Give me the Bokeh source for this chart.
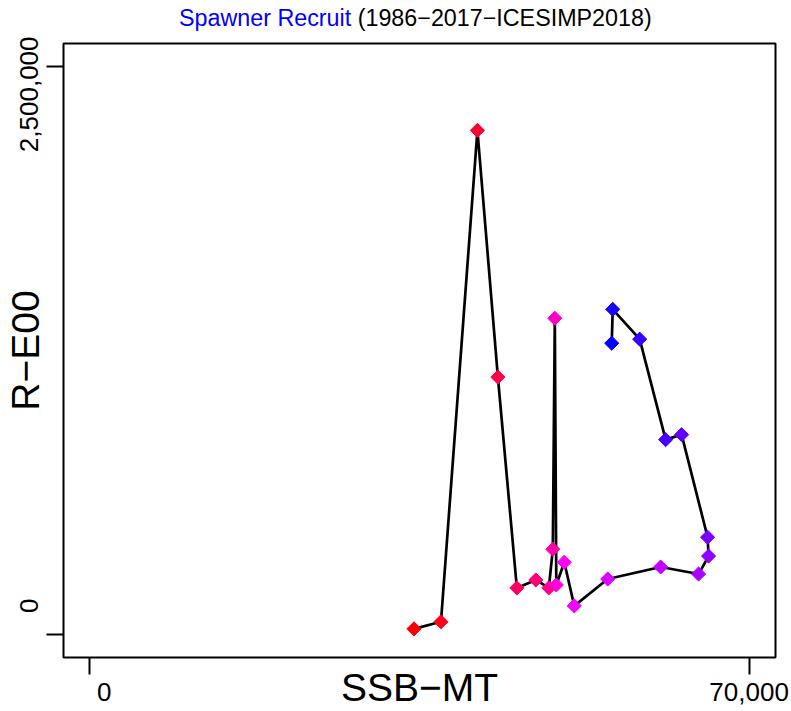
import math
from bokeh.plotting import figure
from bokeh.models import Range1d, FixedTicker, ColumnDataSource, Div
from bokeh.layouts import column
from bokeh.embed import file_html
from bokeh.resources import INLINE

# ---- data ----
ssb = [34417, 37279, 41150, 43323, 45338, 47352, 48731, 49155, 49367, 49526, 50374,
       51434, 54986, 60606, 64635, 65695, 65589, 62833, 61136, 58379, 55517, 55410]
recruits = [26000, 57000, 2218000, 1133000, 206000, 241000, 206000, 376000, 1392000, 219000, 319000,
            127000, 245000, 298000, 267000, 346000, 429000, 880000, 858000, 1300000, 1431000, 1282000]
x_ticks = [0, 70000]
y_ticks = [0, 2500000]
x_tick_labels = ["0", "70,000"]
y_tick_labels = ["0", "2,500,000"]
title_main = "Spawner Recruit"
title_rest = "(1986\u22122017\u2212ICESIMP2018)"
x_label = "SSB\u2212MT"
y_label = "R\u2212E00"

# colour ramp red -> magenta -> blue across points
n = len(ssb)
cols = []
for i in range(n):
    t = i / (n - 1)
    if t <= 0.5:
        r, b = 255, int(round(255 * 2 * t))
    else:
        r, b = int(round(255 * (2 - 2 * t))), 255
    cols.append("#%02x%02x%02x" % (r, 0, b))

src = ColumnDataSource(dict(x=ssb, y=recruits, c=cols))

FONT = "Liberation Sans"
TOTAL_W, TOTAL_H = 790, 711
TITLE_H = 36
W, H = TOTAL_W, TOTAL_H - TITLE_H
XMIN, XMAX = -2800, 72800
YMIN, YMAX = -100000, 2600000
FL, FR, FT, FB = 62, 775, 43, 660  # frame edges in page px

title = Div(
    text=(f'<div style="font-family:\'{FONT}\';font-size:23.3px;line-height:{TITLE_H}px;'
          f'padding-left:179px;white-space:nowrap;color:black">'
          f'<span style="color:#0000ff">{title_main}</span> {title_rest}</div>'),
    width=TOTAL_W, height=TITLE_H, margin=(0, 0, 0, 0))

p = figure(width=W, height=H, output_backend="svg", toolbar_location=None,
           x_range=Range1d(XMIN, XMAX), y_range=Range1d(YMIN, YMAX),
           min_border_left=FL, min_border_right=W - FR,
           min_border_top=FT - TITLE_H, min_border_bottom=TOTAL_H - FB,
           margin=(0, 0, 0, 0))
p.grid.visible = False
p.outline_line_color = "black"
p.outline_line_width = 2
p.background_fill_color = "white"
p.border_fill_color = "white"

NB = "\u00a0"
for ax, ticks in ((p.xaxis, x_ticks), (p.yaxis, y_ticks)):
    ax.ticker = FixedTicker(ticks=ticks)
    ax.major_tick_out = 17
    ax.major_tick_in = 0
    ax.major_tick_line_width = 2
    ax.major_tick_line_color = "black"
    ax.minor_tick_line_color = None
    ax.axis_line_color = None
    ax.major_label_text_font = FONT
    ax.major_label_text_font_size = "26px"
    ax.major_label_text_color = "black"
    ax.major_label_standoff = 2
    ax.axis_label_text_font = FONT
    ax.axis_label_text_font_size = "39px"
    ax.axis_label_text_font_style = "normal"
    ax.axis_label_text_color = "black"

p.xaxis.major_label_overrides = {x_ticks[0]: NB * 4 + x_tick_labels[0], x_ticks[1]: x_tick_labels[1]}
p.yaxis.major_label_overrides = {y_ticks[0]: NB * 8 + y_tick_labels[0], y_ticks[1]: y_tick_labels[1]}
p.yaxis.major_label_orientation = "parallel"
p.xaxis.axis_label = x_label
p.yaxis.axis_label = y_label
p.xaxis.axis_label_standoff = -44
p.yaxis.axis_label_standoff = -35

p.line("x", "y", source=src, line_color="black", line_width=2.7)
p.scatter("x", "y", source=src, marker="square", size=10, angle=math.pi / 4,
          fill_color="c", line_color="c")

layout = column(title, p, spacing=0)
open("out.html", "w").write(file_html(layout, INLINE))
